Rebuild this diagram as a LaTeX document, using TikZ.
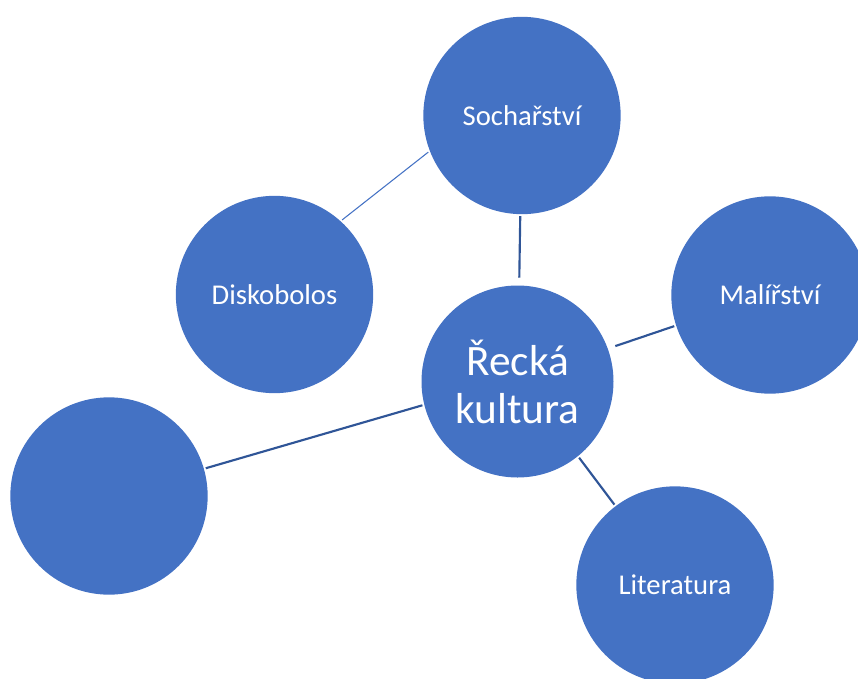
\documentclass[tikz,border=0pt]{standalone}
\usepackage{fontspec}
\setmainfont{Carlito}
\usetikzlibrary{positioning, calc}
\tikzset{
Bubble/.style={
  circle,
  fill=bubbleFill,
  text=white,
  inner sep=0pt,
  outer sep=0pt,
  minimum size=#1,
  align=center,
  font=\fontsize{21.5}{26}\selectfont
  },
Bubble/.default={148pt}
}
\tikzset{
Link/.style={
  line width=1.6pt,
  draw=linkColor,
  shorten >=1.5pt,
  shorten <=1.5pt
  },
ThinLink/.style={
  line width=0.8pt,
  draw=bubbleFill,
  shorten >=1.5pt,
  shorten <=1.5pt
  }
}
\definecolor{bubbleFill}{HTML}{4472C4}
\definecolor{linkColor}{HTML}{2F5597}

\begin{document}
\begin{tikzpicture}[x=0.75pt, y=-0.75pt]
    \useasboundingbox (0,0) rectangle (858,679);
    \clip (0,0) rectangle (858,679);

    % centre
    \node[Bubble=144pt, font=\fontsize{32.5}{36}\selectfont] (rk) at (517.5,381.5) {Řecká\\kultura};

    % outer bubbles
    \node[Bubble] (soch) at (522,115.5) {Sochařství};
    \node[Bubble] (disk) at (274.5,294.5) {Diskobolos};
    \node[Bubble] (mal) at (770,295) {Malířství};
    \node[Bubble] (blank) at (109,496) {};
    \node[Bubble] (lit) at (675,585) {Literatura};

    % links
    \draw[ThinLink] (soch.201.5) -- (disk.48.7);
    \draw[Link, shorten >=6pt] (soch.269.4) -- (rk.89);
    \draw[Link, shorten <=6pt] (rk.20.2) -- (mal.198.1);
    \draw[Link] (rk.194) -- (blank.16.1);
    \draw[Link] (rk.309.3) -- (lit.127);
\end{tikzpicture}
\end{document}
